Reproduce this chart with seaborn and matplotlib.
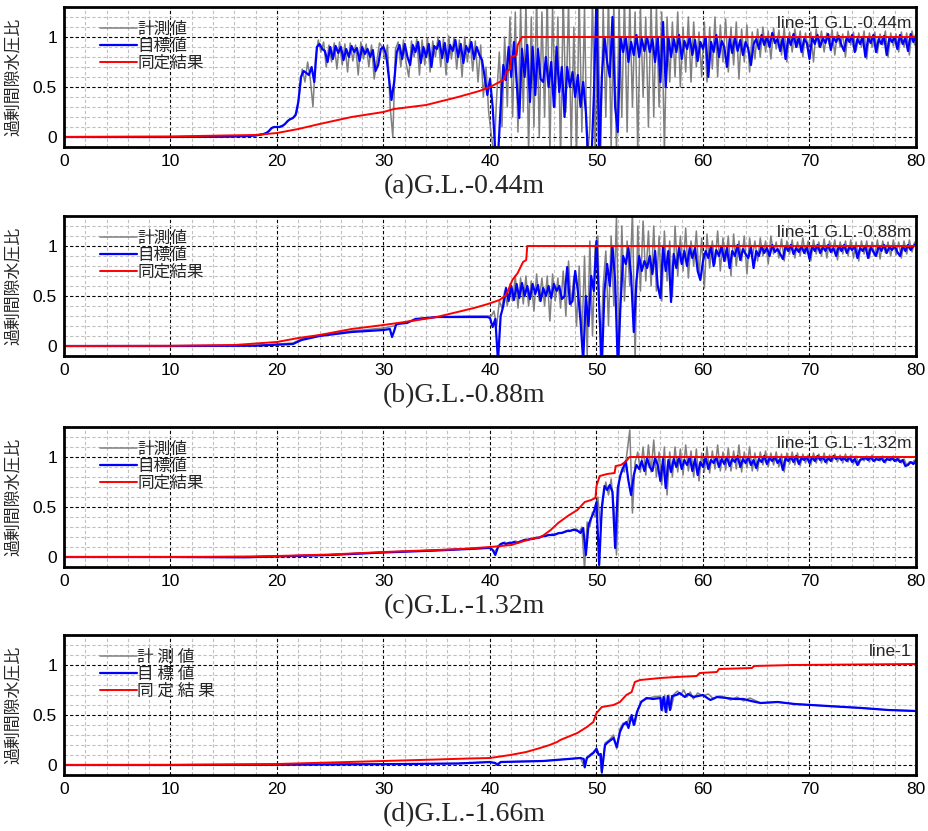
import numpy as np
import matplotlib
matplotlib.use("Agg")
import matplotlib.pyplot as plt
from matplotlib.ticker import MultipleLocator
import seaborn as sns

# excess pore water pressure ratio
DT = 0.25  # sampling step of the dense (shaking) part

# (a) G.L.-0.44m
A_PRE_T = [0, 10, 15, 17, 18, 18.75]
A_PRE_V = [0, 0, 0.003, 0.008, 0.015, 0.03]
A_TARGET_T0 = 19.0
A_TARGET = [0.04, 0.06, 0.09, 0.10,
            0.10, 0.10, 0.11, 0.13, 0.16, 0.18, 0.19, 0.22, 0.35, 0.60, 0.66, 0.64, 0.62, 0.70, 0.55, 0.90, 0.93, 0.88, 0.86, 0.75,
            0.90, 0.78, 0.91, 0.84, 0.90, 0.77, 0.88, 0.80, 0.91, 0.85, 0.89, 0.76, 0.90, 0.83, 0.88, 0.80, 0.87, 0.66, 0.72, 0.88,
            0.90, 0.82, 0.60, 0.37, 0.55, 0.85, 0.92, 0.78, 0.93, 0.80, 0.72, 0.92, 0.85, 0.95, 0.74, 0.90, 0.80, 0.93, 0.70, 0.91,
            0.88, 0.96, 0.79, 0.94, 0.75, 0.92, 0.86, 0.97, 0.80, 0.93, 0.74, 0.91, 0.85, 0.95, 0.78, 0.90, 0.82, 0.77, 0.60, 0.42,
            0.58, 0.30, -0.15, -0.20, 0.30, 0.72, 0.57, 0.90, 0.60, 0.95, 0.55, 0.19, 0.88, 0.60, 0.92, 0.35, 0.90, 0.42, 0.88, 0.58,
            0.55, 0.80, 0.50, 0.75, 0.30, 0.90, 0.45, 0.70, 0.20, 0.70, 0.50, 0.65, 0.40, 0.62, 0.30, 0.55, 0.25, -0.30, -0.30, 0.40,
            1.40, -0.25, 0.60, 1.00, 0.75, 0.60, 1.20, 0.30, 0.05, 1.00, 0.85, 1.00, 0.75, 0.95, 0.82, 1.02, 0.80, 0.98, 0.86, 1.00,
            0.85, 0.98, 0.75, 1.00, 0.55, 1.15, 0.50, 1.00, 0.80, 0.98, 0.85, 1.02, 0.78, 0.96, 0.88, 1.00, 0.82, 0.97, 0.76, 0.95,
            0.88, 1.00, 0.60, 0.95, 0.85, 1.02, 0.80, 0.96, 0.90, 0.70, 0.98, 0.84, 1.00, 0.86, 0.97, 0.82, 0.95, 0.88, 0.72, 0.93,
            0.98, 0.88, 1.02, 0.92, 1.00, 0.90, 1.04, 0.94, 0.98, 0.86, 1.00, 0.78, 0.99, 0.92, 1.03, 0.90, 1.00, 0.85, 0.98, 0.94,
            0.78, 1.00, 0.93, 1.02, 0.90, 0.99, 0.94, 1.03, 0.87, 1.00, 0.95, 1.01, 0.92, 0.86, 1.00, 0.95, 1.02, 0.85, 0.98, 0.93,
            1.00, 0.80, 0.99, 0.94, 1.02, 0.85, 0.98, 0.93, 1.01, 0.82, 0.99, 0.95, 1.00, 0.88, 1.02, 0.93, 0.99, 0.86, 1.03, 0.95,
            1.02]
A_MEAS_T0 = 19.125
A_MEAS = [0.05, 0.08, 0.10, 0.10,
          0.10, 0.11, 0.12, 0.14, 0.17, 0.18, 0.21, 0.25, 0.45, 0.68, 0.55, 0.75, 0.58, 0.30, 0.80, 0.97, 0.85, 0.95, 0.70, 0.92,
          0.75, 0.94, 0.68, 0.95, 0.72, 0.93, 0.65, 0.94, 0.76, 0.92, 0.62, 0.95, 0.78, 0.93, 0.70, 0.92, 0.58, 0.76, 0.94, 0.90,
          0.78, 0.92, 0.30, 0.00, 0.88, 0.95, 0.70, 0.97, 0.74, 0.60, 0.96, 0.80, 0.98, 0.62, 0.97, 0.72, 0.99, 0.65, 0.96, 0.80,
          1.00, 0.70, 0.98, 0.62, 1.01, 0.78, 0.99, 0.68, 0.97, 0.60, 1.00, 0.75, 0.98, 0.66, 0.96, 0.55, 0.92, 0.40, 0.70, 0.25,
          0.02, -0.20, 0.40, 0.85, 0.10, 1.00, 0.30, 1.20, 0.20, 1.25, 0.05, 1.30, 0.25, 1.35, -0.15, 1.20, 0.10, 1.40, 0.00, 1.25,
          0.20, 1.40, -0.15, 1.30, 0.30, 1.20, -0.20, 1.40, 0.25, 1.35, -0.10, 1.10, -0.20, 1.40, 0.05, 1.30, -0.25, 0.10, 1.40, -0.20,
          1.45, -0.30, 1.30, 0.20, 1.40, -0.10, 1.35, -0.15, 1.30, 0.20, 1.40, 0.05, 1.35, 0.30, 1.25, -0.15, 1.30, 0.40, 1.20, 0.10,
          1.35, 0.20, 1.30, 0.30, 1.25, -0.15, 1.20, 0.55, 1.15, 0.60, 1.25, 0.50, 1.10, 0.65, 1.20, 0.55, 1.15, 0.70, 1.05, 0.60,
          1.15, 0.55, 1.10, 0.68, 1.20, 0.60, 1.12, 0.75, 1.18, 0.65, 1.10, 0.72, 1.15, 0.58, 1.08, 0.75, 1.12, 0.65, 1.05, 0.78,
          1.08, 0.80, 1.10, 0.85, 1.06, 0.78, 1.09, 0.88, 1.07, 0.82, 1.10, 0.75, 1.05, 0.85, 1.08, 0.90, 1.06, 0.80, 1.04, 0.88,
          1.05, 0.75, 1.08, 0.90, 1.06, 0.85, 1.04, 0.92, 1.07, 0.82, 1.05, 0.90, 1.03, 0.80, 1.06, 0.92, 1.05, 0.86, 1.04, 0.90,
          1.06, 0.78, 1.04, 0.90, 1.05, 0.84, 1.03, 0.92, 1.06, 0.80, 1.04, 0.91, 1.03, 0.85, 1.05, 0.90, 1.04, 0.82, 1.06, 0.92]
A_IDENT_T = [0, 10, 15, 18, 20, 22, 24, 27, 30, 31, 34, 37, 39, 40, 40.9, 41.4, 41.5, 41.9, 42.0, 42.5, 42.6, 43.0, 80]
A_IDENT = [0, 0.005, 0.015, 0.02, 0.04, 0.08, 0.13, 0.2, 0.25, 0.28, 0.32, 0.4, 0.46, 0.5, 0.55, 0.58, 0.65, 0.68, 0.8,
           0.82, 0.92, 1.0, 1.0]

# (b) G.L.-0.88m
B_TARGET_PRE_T = [0, 10, 18, 21.5, 22.3, 24, 27, 30, 30.6, 30.8, 31.0, 31.2, 32.2, 33, 35, 38, 39.75]
B_TARGET_PRE = [0, 0, 0.003, 0.02, 0.06, 0.10, 0.14, 0.16, 0.17, 0.09, 0.15, 0.22, 0.23, 0.27, 0.29, 0.29, 0.29]
B_TARGET_T0 = 40.0
B_TARGET = [0.28, 0.19, 0.27, -0.15, 0.30, 0.40, 0.58, 0.45, 0.60, 0.46, 0.62, 0.48, 0.63, 0.50, 0.60, 0.47, 0.62, 0.52, 0.61, 0.45,
            0.58, 0.50, 0.60, 0.48, 0.62, 0.55, 0.60, 0.47, 0.50, 0.79, 0.42, 0.45, 0.75, 0.55, 0.25, -0.15, 0.50, 0.20, 0.70, 0.55,
            1.05, 0.40, -0.20, 0.55, 0.82, 0.60, 1.00, 0.65, -0.20, 0.40, 0.90, 0.82, 0.98, 0.70, 0.14, 0.65, 0.90, 0.75, 0.85, 0.78,
            0.90, 0.72, 0.95, 0.60, 0.48, 1.00, 0.75, 0.95, 0.44, 0.92, 0.78, 0.98, 0.82, 0.95, 0.80, 0.98, 0.88, 0.98, 0.75, 0.66,
            0.85, 0.95, 0.88, 1.00, 0.80, 0.96, 0.90, 1.00, 0.85, 0.98, 0.78, 0.95, 0.90, 1.01, 0.86, 0.97, 0.92, 0.88, 0.99, 0.78,
            0.95, 0.90, 1.00, 0.93, 0.98, 0.90, 1.01, 0.94, 0.97, 0.92, 0.87, 1.00, 0.95, 1.01, 0.92, 0.98, 0.94, 1.00, 0.93, 0.99,
            0.87, 1.00, 0.95, 1.01, 0.93, 0.99, 0.95, 1.01, 0.94, 0.98, 0.90, 1.00, 0.95, 1.01, 0.93, 0.99, 0.96, 1.00, 0.88, 0.98,
            0.95, 1.00, 0.88, 0.99, 0.94, 0.90, 1.00, 0.95, 1.01, 0.93, 0.99, 0.96, 1.00, 0.94, 0.90, 1.00, 0.95, 1.01, 0.96, 1.00,
            1.02]
B_MEAS_PRE_T = [0, 10, 18, 21.5, 22.3, 24, 27, 30, 31, 32, 35, 38, 39.875]
B_MEAS_PRE = [0, 0, 0.005, 0.03, 0.07, 0.11, 0.15, 0.18, 0.2, 0.24, 0.29, 0.30, 0.30]
B_MEAS_T0 = 40.125
B_MEAS = [0.30, 0.35, 0.20, 0.45, 0.38, 0.55, 0.40, 0.62, 0.45, 0.70, 0.38, 0.68, 0.42, 0.70, 0.40, 0.65, 0.35, 0.72, 0.45, 0.68,
          0.40, 0.70, 0.25, 0.72, 0.45, 0.68, 0.38, 0.75, 0.30, 0.85, 0.40, 0.70, 0.20, 0.80, 0.05, 0.90, -0.10, 1.05, 0.10, 1.00,
          1.10, -0.15, 0.60, 0.95, 0.20, 1.10, 0.40, 1.30, -0.15, 1.20, 0.45, 1.05, 0.60, 1.35, -0.15, 1.20, 0.55, 1.25, 0.65, 1.15,
          0.60, 1.20, 0.55, 1.10, 0.45, 1.15, 0.65, 1.05, 0.50, 1.20, 0.70, 1.10, 0.75, 1.18, 0.68, 1.05, 0.80, 1.15, 0.70, 1.08,
          0.58, 1.12, 0.78, 1.05, 0.82, 1.15, 0.75, 1.08, 0.85, 1.10, 0.70, 1.12, 0.80, 1.05, 0.85, 1.10, 0.72, 1.08, 0.88, 1.05,
          0.85, 1.08, 0.90, 1.05, 0.82, 1.10, 0.92, 1.04, 0.88, 1.07, 0.85, 1.05, 0.92, 1.06, 0.88, 1.04, 0.90, 1.08, 0.92, 1.05,
          0.85, 1.06, 0.92, 1.04, 0.90, 1.07, 0.88, 1.05, 0.93, 1.06, 0.86, 1.04, 0.92, 1.05, 0.90, 1.06, 0.88, 1.04, 0.85, 1.05,
          0.92, 1.05, 0.88, 1.04, 0.90, 1.06, 0.87, 1.05, 0.93, 1.04, 0.90, 1.06, 0.91, 1.04, 0.88, 1.05, 0.92, 1.06, 0.94, 1.04]
B_IDENT_T = [0, 10, 16, 20, 22, 24, 27, 30, 32, 35, 38.5, 39.8, 40.9, 41.5, 41.8, 42.1, 42.6, 43.1, 43.4, 43.5, 80]
B_IDENT = [0, 0.002, 0.01, 0.04, 0.08, 0.11, 0.17, 0.21, 0.24, 0.29, 0.38, 0.42, 0.46, 0.51, 0.58, 0.66, 0.73, 0.84, 0.86,
           1.0, 1.0]

# (c) G.L.-1.32m
C_TARGET_PRE_T = [0, 10, 17, 20, 25, 30, 35, 38, 39.75]
C_TARGET_PRE = [0, 0, -0.003, 0.005, 0.02, 0.045, 0.065, 0.08, 0.09]
C_TARGET_T0 = 40.0
C_TARGET = [0.09, 0.07, 0.02, 0.10, 0.13, 0.14, 0.13, 0.14, 0.14, 0.15, 0.14, 0.15, 0.16, 0.17, 0.17, 0.18, 0.18, 0.19, 0.19, 0.20,
            0.21, 0.21, 0.22, 0.22, 0.22, 0.23, 0.24, 0.24, 0.25, 0.26, 0.26, 0.27, 0.27, 0.26, 0.24, 0.29, 0.02, 0.32, 0.39, 0.45,
            0.55, -0.08, 0.50, 0.71, 0.67, 0.72, 0.65, 0.09, 0.69, 0.82, 0.89, 0.96, 0.76, 0.62, 0.82, 0.92, 0.88, 0.96, 0.86, 0.99,
            0.90, 0.86, 0.99, 0.92, 0.76, 0.98, 0.69, 0.97, 0.85, 0.98, 0.90, 1.00, 0.88, 0.97, 0.92, 1.00, 0.86, 0.98, 0.82, 0.95,
            0.90, 1.00, 0.88, 0.97, 0.94, 1.00, 0.90, 0.98, 0.93, 1.00, 0.91, 0.98, 0.95, 1.01, 0.90, 0.98, 0.94, 1.00, 0.92, 0.97,
            0.89, 0.98, 0.95, 1.01, 0.93, 0.99, 0.96, 1.00, 0.94, 0.98, 0.87, 0.99, 0.96, 1.00, 0.95, 1.01, 0.93, 0.99, 0.97, 1.00,
            0.94, 1.00, 0.96, 1.01, 0.97, 1.00, 0.95, 0.99, 0.96, 1.01, 0.98, 1.00, 0.97, 0.99, 0.96, 1.00, 0.95, 0.98, 0.92, 0.97,
            0.98, 0.99, 0.97, 1.00, 0.96, 0.98, 0.97, 0.99, 0.95, 0.98, 0.97, 0.99, 0.96, 0.98, 0.95, 0.97, 0.91, 0.92, 0.95, 0.93,
            0.96]
C_MEAS_PRE_T = [0, 10, 17, 20, 25, 30, 35, 38, 39.875]
C_MEAS_PRE = [0, 0, 0.0, 0.008, 0.022, 0.047, 0.067, 0.082, 0.09]
C_MEAS_T0 = 40.125
C_MEAS = [0.09, 0.05, 0.08, 0.12, 0.13, 0.15, 0.13, 0.15, 0.14, 0.16, 0.15, 0.16, 0.17, 0.18, 0.17, 0.19, 0.18, 0.20, 0.19, 0.21,
          0.21, 0.22, 0.22, 0.23, 0.23, 0.24, 0.24, 0.25, 0.26, 0.27, 0.26, 0.28, 0.28, 0.25, 0.30, -0.12, 0.35, 0.30, 0.45, 0.40,
          0.60, 0.30, 0.58, 0.75, 0.62, 0.78, 0.50, 0.02, 0.75, 0.88, 0.85, 1.05, 1.27, 0.44, 0.95, 1.05, 0.85, 1.10, 0.82, 1.12,
          0.85, 1.17, 0.80, 1.05, 0.72, 1.10, 0.62, 1.05, 0.80, 1.10, 0.85, 1.08, 0.82, 1.12, 0.86, 1.06, 0.80, 1.08, 0.76, 1.04,
          0.85, 1.10, 0.84, 1.06, 0.88, 1.12, 0.86, 1.05, 0.87, 1.09, 0.86, 1.06, 0.88, 1.12, 0.85, 1.05, 0.89, 1.10, 0.86, 1.04,
          0.86, 1.05, 0.92, 1.06, 0.90, 1.04, 0.92, 1.05, 0.90, 1.03, 0.85, 1.04, 0.93, 1.05, 0.92, 1.04, 0.91, 1.03, 0.94, 1.02,
          0.92, 1.04, 0.94, 1.03, 0.94, 1.04, 0.93, 1.02, 0.95, 1.03, 0.95, 1.02, 0.94, 1.03, 0.95, 1.02, 0.93, 1.01, 0.92, 1.00,
          0.96, 1.01, 0.95, 1.02, 0.95, 1.00, 0.96, 1.01, 0.94, 1.00, 0.96, 1.01, 0.95, 0.99, 0.94, 0.98, 0.92, 0.95, 0.94, 0.97]
C_IDENT_T = [0, 10, 17, 20, 25, 30, 35, 37.3, 40, 42, 43.5, 44.8, 45.7, 46.4, 47.3, 48.2, 48.9, 49.5, 49.9, 50.0, 50.3, 51.0,
             51.7, 51.8, 52.3, 52.8, 53.1, 80]
C_IDENT = [0, 0, 0.005, 0.01, 0.025, 0.05, 0.07, 0.08, 0.10, 0.12, 0.17, 0.20, 0.27, 0.34, 0.41, 0.47, 0.55, 0.57, 0.59, 0.71,
           0.81, 0.83, 0.84, 0.91, 0.92, 0.96, 1.0, 1.0]

# (d) G.L.-1.66m
D_TARGET_T = [0, 10, 20, 30, 37, 40, 40.5, 40.7, 41, 45, 48.5, 48.8, 48.9, 49.1, 49.7, 50.0, 50.2, 50.4, 50.5, 50.8,
              51.1, 51.6, 51.9, 52.2, 52.5, 52.8, 53.0, 53.3, 53.5, 53.8, 54.2, 54.7, 55.3, 56.0, 56.1, 56.3, 56.5, 56.7, 56.9, 57.1,
              57.5, 57.8, 58.3, 58.6, 59.1, 60.0, 60.4, 60.7, 61.3, 62.2, 63.0, 63.8, 64.5, 65.4, 67.0, 68.6, 71.7, 74.9, 77.4, 80]
D_TARGET = [0, 0, 0.003, 0.008, 0.015, 0.03, 0.02, 0.0, 0.03, 0.04, 0.07, 0.06, -0.02, 0.07, 0.12, 0.16, 0.10, 0.11, -0.07, 0.20,
            0.23, 0.27, 0.18, 0.33, 0.40, 0.43, 0.37, 0.50, 0.40, 0.53, 0.63, 0.67, 0.66, 0.67, 0.55, 0.68, 0.53, 0.69, 0.55, 0.69,
            0.70, 0.72, 0.68, 0.71, 0.68, 0.70, 0.67, 0.65, 0.68, 0.67, 0.66, 0.66, 0.64, 0.62, 0.63, 0.61, 0.59, 0.57, 0.55, 0.54]
D_MEAS_T = [0, 10, 20, 30, 37, 40, 40.6, 41, 45, 48.5, 48.9, 49.1, 49.7, 50.0, 50.3, 50.5, 50.8, 51.2, 51.6, 51.9,
            52.2, 52.5, 52.8, 53.1, 53.3, 53.6, 53.9, 54.2, 54.7, 55.3, 56.0, 56.2, 56.4, 56.6, 56.8, 57.0, 57.3, 57.6, 57.9, 58.2,
            58.5, 58.8, 59.1, 59.5, 60.0, 60.5, 61.0, 61.5, 62.0, 62.6, 63.2, 63.8, 64.4, 65.4, 67.0, 68.6, 71.7, 74.9, 77.4, 80]
D_MEAS = [0, 0, 0.003, 0.008, 0.015, 0.03, 0.01, 0.03, 0.04, 0.07, -0.03, 0.08, 0.13, 0.17, 0.09, -0.09, 0.22, 0.25, 0.30, 0.16,
          0.36, 0.42, 0.40, 0.48, 0.45, 0.40, 0.56, 0.64, 0.66, 0.68, 0.69, 0.54, 0.70, 0.52, 0.70, 0.56, 0.71, 0.74, 0.70, 0.75,
          0.68, 0.73, 0.66, 0.72, 0.69, 0.71, 0.66, 0.69, 0.68, 0.65, 0.68, 0.64, 0.67, 0.62, 0.63, 0.61, 0.59, 0.57, 0.55, 0.54]
D_IDENT_T = [0, 10, 20, 25, 30, 35, 38, 40, 41.9, 43.4, 44.7, 45.6, 46.3, 46.6, 48.2, 49.1, 49.7, 50.0, 50.5, 51.6,
             52.2, 52.8, 53.3, 53.6, 54.1, 56, 57.5, 59.4, 59.7, 61.3, 61.5, 64.6, 64.8, 68.4, 80]
D_IDENT = [0, 0.001, 0.01, 0.025, 0.04, 0.055, 0.065, 0.07, 0.10, 0.13, 0.17, 0.20, 0.23, 0.25, 0.32, 0.38, 0.43, 0.52, 0.58,
           0.60, 0.63, 0.70, 0.73, 0.83, 0.85, 0.87, 0.88, 0.89, 0.92, 0.93, 0.96, 0.97, 0.99, 1.0, 1.01]

TITLES = ['(a)G.L.-0.44m', '(b)G.L.-0.88m', '(c)G.L.-1.32m', '(d)G.L.-1.66m']
TAGS = ['line-1 G.L.-0.44m', 'line-1 G.L.-0.88m', 'line-1 G.L.-1.32m', 'line-1']
LABELS = ['計測値', '目標値', '同定結果']
LABELS_D = ['計 測 値', '目 標 値', '同 定 結 果']
YLABEL = '過剰間隙水圧比'


def join(pre_t, pre_v, t0, dense):
    # pre-shaking points + evenly sampled shaking record
    t = np.concatenate([pre_t, t0 + DT * np.arange(len(dense))])
    v = np.concatenate([pre_v, dense])
    return t, v


panels = [
    (join(A_PRE_T, A_PRE_V, A_MEAS_T0, A_MEAS), join(A_PRE_T, A_PRE_V, A_TARGET_T0, A_TARGET), (A_IDENT_T, A_IDENT)),
    (join(B_MEAS_PRE_T, B_MEAS_PRE, B_MEAS_T0, B_MEAS), join(B_TARGET_PRE_T, B_TARGET_PRE, B_TARGET_T0, B_TARGET),
     (B_IDENT_T, B_IDENT)),
    (join(C_MEAS_PRE_T, C_MEAS_PRE, C_MEAS_T0, C_MEAS), join(C_TARGET_PRE_T, C_TARGET_PRE, C_TARGET_T0, C_TARGET),
     (C_IDENT_T, C_IDENT)),
    ((D_MEAS_T, D_MEAS), (D_TARGET_T, D_TARGET), (D_IDENT_T, D_IDENT)),
]

sns.set_theme(style="white")
plt.rcParams['font.family'] = ['Liberation Sans', 'Noto Sans CJK JP', 'DejaVu Sans']

W, H = 929, 831
fig = plt.figure(figsize=(W / 100, H / 100), dpi=100)

ax_top = [7, 216, 427, 635]   # pixel rows of the axes tops
ax_h = 140
left, right = 64, 916

for i, ((mt, mv), (tt, tv), (it, iv)) in enumerate(panels):
    top = ax_top[i]
    ax = fig.add_axes([left / W, 1 - (top + ax_h) / H, (right - left) / W, ax_h / H])
    labels = LABELS_D if i == 3 else LABELS

    sns.lineplot(x=mt, y=mv, ax=ax, color='#808080', linewidth=1.1, estimator=None, sort=False, label=labels[0])
    sns.lineplot(x=tt, y=tv, ax=ax, color='#0000ff', linewidth=1.6, estimator=None, sort=False, label=labels[1])
    sns.lineplot(x=it, y=iv, ax=ax, color='#ff0000', linewidth=1.4, estimator=None, sort=False, label=labels[2])

    ax.set_xlim(0, 80)
    ax.set_ylim(-0.1, 1.3)
    ax.set_xticks(range(0, 81, 10))
    ax.set_yticks([0, 0.5, 1])
    ax.set_yticklabels(['0', '0.5', '1'])
    ax.xaxis.set_minor_locator(MultipleLocator(2))
    ax.yaxis.set_minor_locator(MultipleLocator(0.1))
    ax.grid(which='minor', color='#c0c0c0', linestyle=(0, (3, 2)), linewidth=0.8)
    ax.grid(which='major', color='black', linestyle=(0, (3, 2)), linewidth=0.8)
    ax.set_axisbelow(True)
    ax.tick_params(which='both', length=0, labelsize=12.5, pad=5, colors='black')
    for s in ax.spines.values():
        s.set_color('black')
        s.set_linewidth(2)

    ax.set_xlabel('')
    ax.set_ylabel(YLABEL, fontsize=12.2, family=['Noto Sans CJK JP'])
    ax.yaxis.set_label_coords(-0.05, 0.5)

    ax.legend(loc='upper left', bbox_to_anchor=(0.042, 0.9), frameon=False,
              prop={'family': ['Noto Sans CJK JP'], 'size': 12},
              handlelength=2.25, handletextpad=0.0, labelspacing=0.0, borderpad=0, borderaxespad=0)

    ax.text(0.995, 0.885, TAGS[i], transform=ax.transAxes, ha='right', va='center', fontsize=12.5, zorder=1)

    fig.text(0.5, 1 - (top + ax_h + 40) / H, TITLES[i], ha='center', va='center', fontsize=20,
             family=['Liberation Serif'])

fig.savefig('out.png', dpi=100)
